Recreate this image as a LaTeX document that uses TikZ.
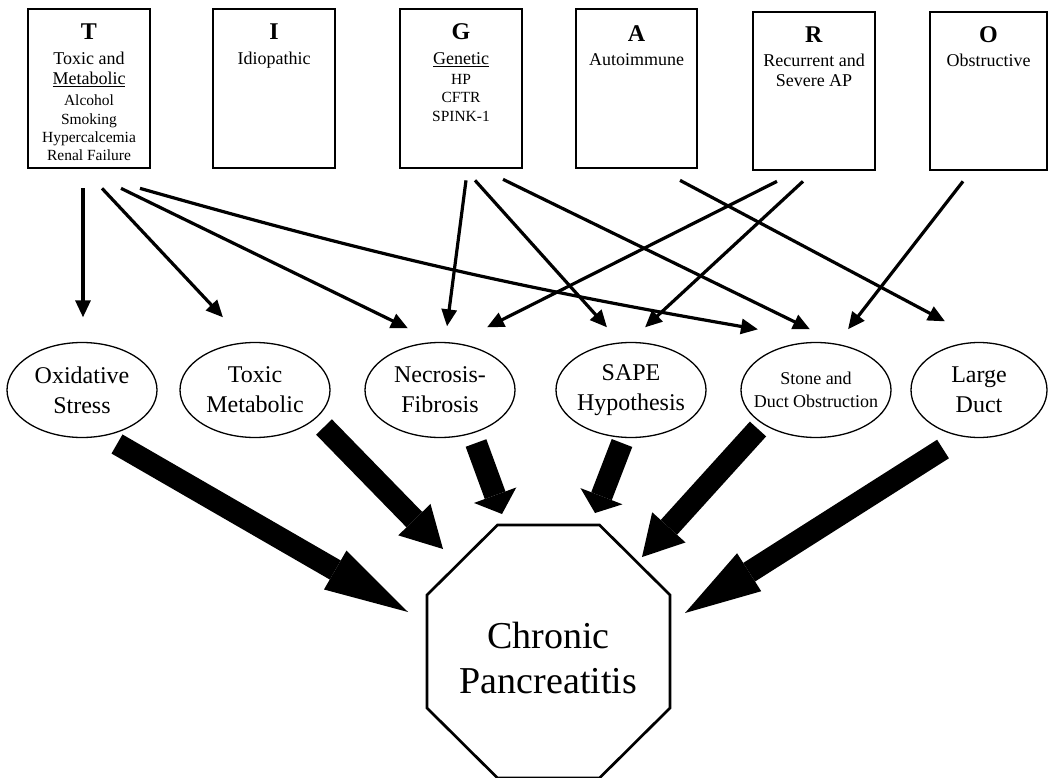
\documentclass[tikz,border=0pt]{standalone}
\usepackage{fontspec}
\setmainfont{Liberation Serif}
\usetikzlibrary{arrows.meta,shapes.geometric,calc}
\newcommand\smalltx{\fontsize{15.5}{20}\selectfont}
\newcommand\bigletter[1]{\textbf{\fontsize{24}{20}\selectfont #1}}
\begin{document}
\begin{tikzpicture}[x=1pt,y=-1pt,
  box/.style={draw,line width=2.7pt,minimum width=122pt,minimum height=159pt,inner sep=0pt},
  boxtext/.style={anchor=north,align=center,inner sep=0pt,font=\fontsize{18}{20}\selectfont},
  oval/.style={draw,ellipse,line width=1.3pt,minimum width=150pt,minimum height=95pt,inner xsep=-14pt,inner ysep=2pt,align=center,font=\fontsize{24}{30}\selectfont},
  arr/.style={line width=3.2pt,-{Triangle[length=17pt,width=15pt]}},
  fatarr/.style={line width=22pt,-{Triangle[length=#1,width=45pt,line width=0pt]}},
  oct/.style={line width=2.7pt,line join=miter},
]
\fill[white] (0,0) rectangle (1049,778);
\useasboundingbox (0,0) rectangle (1049,778);

% top boxes
\node[box] (T) at (89,88.5) {};
\node[box] (I) at (274,88.5) {};
\node[box] (G) at (461,88.5) {};
\node[box,minimum width=121pt] (A) at (636.5,88.5) {};
\node[box,minimum height=158pt] (R) at (814,91) {};
\node[box,minimum width=117pt,minimum height=158pt] (O) at (988.5,91) {};

\node[boxtext] (tT) at ($(T.north)+(0,16)$) {\bigletter{T}\\[5pt] Toxic and\\ \underline{Metabolic}\\[1pt] \smalltx Alcohol\\[-1pt] \smalltx Smoking\\[-2pt] \smalltx Hypercalcemia\\[-2pt] \smalltx Renal Failure};
\node[boxtext] (tI) at ($(I.north)+(0,16)$) {\bigletter{I}\\[5pt] Idiopathic};
\node[boxtext] (tG) at ($(G.north)+(0,16)$) {\bigletter{G}\\[5pt] \underline{Genetic}\\ \smalltx HP\\[-2pt] \smalltx CFTR\\[-1pt] \smalltx SPINK-1};
\node[boxtext] (tA) at ($(A.north)+(0,18)$) {\bigletter{A}\\[4pt] Autoimmune};
\node[boxtext] (tR) at ($(R.north)+(0,16)$) {\bigletter{R}\\[4pt] Recurrent and\\ Severe AP};
\node[boxtext] (tO) at ($(O.north)+(0,16)$) {\bigletter{O}\\[4pt] Obstructive};

% mechanisms
\node[oval] (ox) at (82,390) {Oxidative\\Stress};
\node[oval] (tm) at (255,390) {Toxic\\Metabolic};
\node[oval] (nf) at (440,390) {Necrosis-\\Fibrosis};
\node[oval] (sape) at (631,390) {SAPE\\Hypothesis};
\node[oval,font=\fontsize{18}{23}\selectfont] (sdo) at (816,390) {Stone and\\Duct Obstruction};
\node[oval,minimum width=136pt] (ld) at (979,390) {Large\\Duct};

% chronic pancreatitis
\node[inner sep=0pt,align=center,font=\fontsize{38}{45}\selectfont] (cp) at (548.5,658) {Chronic\\Pancreatitis};
\draw[oct] ($(cp)+(-51,-133)$) -- ($(cp)+(51,-133)$) -- ($(cp)+(121.5,-63)$) -- ($(cp)+(121.5,50)$) -- ($(cp)+(51,120)$) -- ($(cp)+(-51,120)$) -- ($(cp)+(-121.5,50)$) -- ($(cp)+(-121.5,-63)$) -- cycle;

% thin arrows
\draw[arr] ($(T.south)+(-6,19)$) -- ($(ox.north)+(1,-24.5)$);
\draw[arr] ($(T.south)+(13,19)$) -- ($(tm.north)+(-32,-24.5)$);
\draw[arr] ($(T.south)+(32,19)$) -- ($(nf.north)+(-32,-13.5)$);
\draw[arr] ($(T.south)+(51,19)$) to[bend right=3] ($(sdo.north)+(-58,-12.5)$);
\draw[arr] ($(G.south)+(5,11)$) -- ($(nf.north)+(7,-15.5)$);
\draw[arr] ($(G.south)+(14,11)$) -- ($(sape.north)+(-24,-14.5)$);
\draw[arr] ($(G.south)+(42,10)$) -- ($(sdo.north)+(-6,-12.5)$);
\draw[arr] ($(A.south)+(43.5,11)$) -- ($(ld.north)+(-34,-20.5)$);
\draw[arr] ($(R.south)+(-37,10)$) -- ($(nf.north)+(47,-14.5)$);
\draw[arr] ($(R.south)+(-11,10)$) -- ($(sape.north)+(14,-14.5)$);
\draw[arr] ($(O.south)+(-25.5,10)$) -- ($(sdo.north)+(32,-12.5)$);

% thick arrows
\draw[fatarr=84pt] ($(ox)+(35,54)$) -- ($(cp)+(-140.5,-46)$);
\draw[fatarr=41pt] ($(tm)+(69,37)$) -- ($(cp)+(-105.5,-109)$);
\draw[fatarr=20pt] ($(nf)+(36,53)$) -- ($(cp)+(-46.5,-144)$);
\draw[fatarr=18pt] ($(sape)+(-9,53)$) -- ($(cp)+(46.5,-145)$);
\draw[fatarr=40pt] ($(sdo)+(-58,39)$) -- ($(cp)+(93.5,-101)$);
\draw[fatarr=76pt] ($(ld)+(-36,59)$) -- ($(cp)+(136.5,-45)$);
\end{tikzpicture}
\end{document}
